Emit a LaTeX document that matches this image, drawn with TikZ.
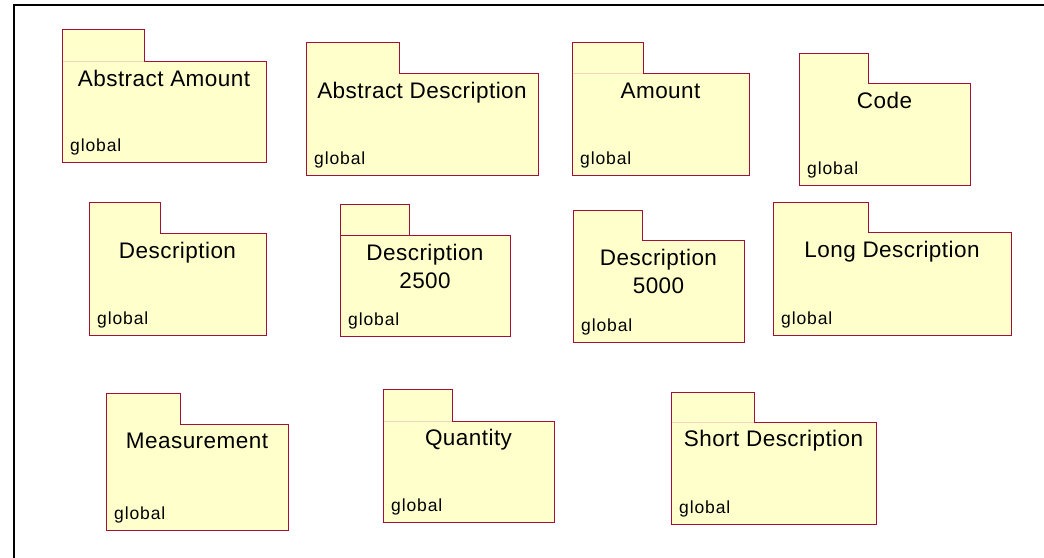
\documentclass[tikz,border=0pt]{standalone}
\usepackage{fontspec}
\setmainfont{Liberation Sans}
\newfontfamily\titlefont[LetterSpace=2]{Liberation Sans}
\newfontfamily\globfont[LetterSpace=5]{Liberation Sans}
\definecolor{pkgline}{RGB}{160,16,56}
\definecolor{pkgfill}{RGB}{255,255,204}
\definecolor{sepfaint}{RGB}{240,215,185}
\tikzset{
  pkgbox/.style={draw=pkgline, fill=pkgfill, line width=1bp, line join=miter},
  pkgtitle/.style={font=\titlefont\fontsize{22.5bp}{28bp}\selectfont, anchor=base, inner sep=0pt},
  pkgglobal/.style={font=\globfont\fontsize{17.5bp}{20bp}\selectfont, anchor=base west, inner sep=0pt},
  frameline/.style={line width=2bp, draw=black},
  sepsoft/.style={draw=sepfaint, line width=1bp},
  sephard/.style={draw=pkgline, line width=1bp}
}
% name, left, tabright, tabtop, bodytop, right, bottom, title, second line
\newcommand{\umlpkg}[9]{%
  \draw[pkgbox] (#2,#7) -- (#2,#4) -- (#3,#4) -- (#3,#5) -- (#6,#5) -- (#6,#7) -- cycle;
  \node[pkgtitle] (#1-title) at ({(#2+#6)/2},{#5+24.5}) {#8};
  \def\pkgsecond{#9}%
  \ifx\pkgsecond\empty\else
    \node[pkgtitle] (#1-title2) at ({(#2+#6)/2},{#5+52.5}) {#9};
  \fi
  \node[pkgglobal] (#1-global) at ({#2+8},{#7-11}) {global};
}
\begin{document}
\begin{tikzpicture}[x=1bp,y=-1bp]
  \useasboundingbox (0,0) rectangle (1044,558);
  \coordinate (fbl) at (14,559);
  \coordinate (ftl) at (14,5);
  \coordinate (ftr) at (1045,5);
  \draw[frameline] (fbl) -- (ftl) -- (ftr);

  \umlpkg{aa}{62}{144}{30}{62}{266}{163}{Abstract Amount}{}
  \draw[sepsoft] (62.5,62) -- (143.5,62);
  \umlpkg{ad}{306}{399}{43}{74}{538}{176}{Abstract Description}{}
  \umlpkg{am}{572}{643}{43}{74}{749}{176}{Amount}{}
  \draw[sepsoft] (572.5,74) -- (642.5,74);
  \umlpkg{code}{799}{868}{54}{84}{970}{186}{Code}{}

  \umlpkg{desc}{89}{160}{203}{234}{266}{336}{Description}{}
  \umlpkg{dtwo}{340}{409}{205}{236}{510}{337}{Description}{2500}
  \draw[sephard] (340,236) -- (409,236);
  \umlpkg{dfive}{573}{642}{211}{241}{744}{343}{Description}{5000}
  \umlpkg{long}{773}{868}{203}{233}{1011}{336}{Long Description}{}

  \umlpkg{meas}{106}{180}{393}{424}{288}{530}{Measurement}{}
  \umlpkg{qty}{383}{452}{389}{421}{554}{522}{Quantity}{}
  \draw[sepsoft] (383.5,421) -- (451.5,421);
  \umlpkg{short}{671}{754}{392}{422}{876}{524}{Short Description}{}
  \draw[sepsoft] (671.5,422) -- (753.5,422);
\end{tikzpicture}
\end{document}
